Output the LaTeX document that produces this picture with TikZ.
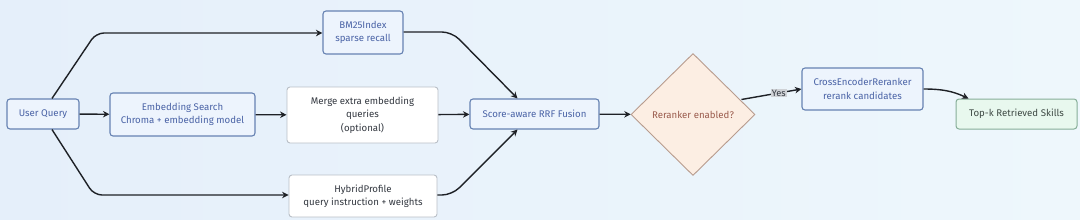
\documentclass[tikz,border=0pt]{standalone}
\usepackage{fontspec}
\setmainfont{Fira Sans}
\usetikzlibrary{arrows.meta,shapes.geometric}
\definecolor{bgA}{HTML}{E5EFFA}
\definecolor{bgB}{HTML}{EEF7FC}
\definecolor{bluefill}{HTML}{EDF4FD}
\definecolor{blueline}{HTML}{6682B2}
\definecolor{bluetext}{HTML}{4A63A6}
\definecolor{grayline}{HTML}{B9BFC7}
\definecolor{graytext}{HTML}{333840}
\definecolor{peachfill}{HTML}{FCEEE3}
\definecolor{peachline}{HTML}{B89C8E}
\definecolor{peachtext}{HTML}{9A5B4D}
\definecolor{greenfill}{HTML}{E8F8EE}
\definecolor{greenline}{HTML}{86AE98}
\definecolor{greentext}{HTML}{3E4A44}
\definecolor{edgecol}{HTML}{1E2126}
\definecolor{yesbg}{HTML}{CFD2D6}
\tikzset{
  bluebox/.style={draw=blueline, fill=bluefill, text=bluetext, rounded corners=3bp, line width=1.1bp, align=center, inner sep=0pt, font=\fontsize{9.7}{13.5}\selectfont},
  whitebox/.style={draw=grayline, fill=white, text=graytext, rounded corners=3bp, line width=0.9bp, align=center, inner sep=0pt, font=\fontsize{9.7}{13.5}\selectfont},
  decision/.style={diamond, aspect=1, draw=peachline, fill=peachfill, text=peachtext, line width=0.9bp, inner sep=0pt, minimum width=124bp, minimum height=122bp, font=\fontsize{9.7}{13.5}\selectfont},
  endbox/.style={draw=greenline, fill=greenfill, text=greentext, rounded corners=3bp, line width=1bp, align=center, inner sep=0pt, font=\fontsize{9.7}{13.5}\selectfont},
  flow/.style={draw=edgecol, line width=1.4bp, -{Stealth[length=6.5bp,width=6.5bp]}},
  yeslabel/.style={fill=yesbg, text=graytext, inner sep=1.2bp, font=\fontsize{9.2}{10}\selectfont}
}
\begin{document}
\begin{tikzpicture}[x=1bp,y=-1bp]
\useasboundingbox (0,0) rectangle (1080,219);
\shade[left color=bgA, right color=bgB] (0,0) rectangle (1080,219);

\node[bluebox, minimum width=72bp, minimum height=30bp] (uq) at (43,114) {User Query};
\node[bluebox, minimum width=145bp, minimum height=43bp] (emb) at (182.5,114.5) {Embedding Search\\Chroma + embedding model};
\node[bluebox, minimum width=80bp, minimum height=43bp] (bm) at (363,32.5) {BM25Index\\sparse recall};
\node[whitebox, minimum width=151bp, minimum height=56bp] (merge) at (362.5,115) {Merge extra embedding\\queries\\(optional)};
\node[whitebox, minimum width=148bp, minimum height=42bp] (hyb) at (363,196) {HybridProfile\\query instruction + weights};
\node[bluebox, minimum width=129bp, minimum height=30bp] (rrf) at (534.5,114) {Score-aware RRF Fusion};
\node[decision] (dec) at (693,114.5) {Reranker enabled?};
\node[bluebox, minimum width=121bp, minimum height=42bp] (ce) at (862.5,89) {CrossEncoderReranker\\rerank candidates};
\node[endbox, minimum width=121bp, minimum height=30bp] (top) at (1016.5,114) {Top-k Retrieved Skills};

\coordinate (c1) at (96,33);
\coordinate (c2) at (94,195);
\coordinate (c3) at (452,32);
\coordinate (c4) at (452,195);

\draw[flow, rounded corners=8bp] ([xshift=9bp]uq.north) -- (c1) -- (bm.west |- c1);
\draw[flow, rounded corners=8bp] ([xshift=9bp]uq.south) -- (c2) -- (hyb.west |- c2);
\draw[flow] (uq) -- (emb);
\draw[flow] (emb) -- (merge);
\draw[flow] (merge) -- (rrf);
\draw[flow, rounded corners=10bp] (bm.east |- c3) -- (c3) -- ([xshift=-17bp]rrf.north);
\draw[flow, rounded corners=10bp] (hyb.east |- c4) -- (c4) -- ([xshift=-17bp]rrf.south);
\draw[flow] (rrf) -- (dec);
\draw[flow] ([xshift=-14bp,yshift=15bp]dec.east) -- node[yeslabel, pos=0.62] (yes) {Yes} (ce.west);
\draw[flow] (ce.east) to[out=0, in=155] ([xshift=-48bp]top.north);
\end{tikzpicture}
\end{document}
